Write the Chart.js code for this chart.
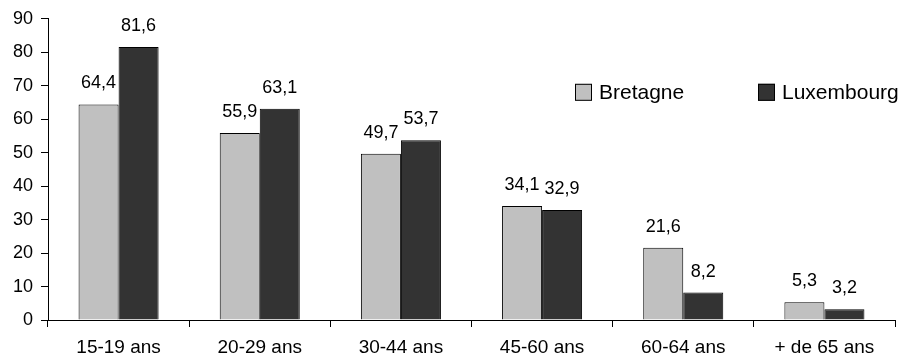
<!DOCTYPE html>
<html><head><meta charset="utf-8">
<script src="https://cdn.jsdelivr.net/npm/chart.js@4"></script>
<style>html,body{margin:0;padding:0;background:#fff}#w{width:911px;height:362px}</style>
</head><body><div id="w"><canvas id="c"></canvas></div>
<script>
const categories = ["15-19 ans","20-29 ans","30-44 ans","45-60 ans","60-64 ans","+ de 65 ans"];
const bretagne = [64.4,55.9,49.7,34.1,21.6,5.3];
const luxembourg = [81.6,63.1,53.7,32.9,8.2,3.2];
const seriesNames = ["Bretagne","Luxembourg"];
const yTicks = [0,10,20,30,40,50,60,70,80,90];
const FONT = "'Liberation Sans', Arial, sans-serif";

const labelPlugin = {
  id:'labels',
  afterDatasetsDraw(chart){
    const ctx = chart.ctx;
    ctx.save();
    ctx.font = "18px " + FONT;
    ctx.fillStyle = "#000";
    ctx.textAlign = "center";
    ctx.textBaseline = "alphabetic";
    chart.data.datasets.forEach((ds,i)=>{
      chart.getDatasetMeta(i).data.forEach((bar,j)=>{
        const t = ds.data[j].toFixed(1).replace('.',',');
        ctx.fillText(t, bar.x, bar.y - 16);
      });
    });
    ctx.restore();
  }
};
const legendPlugin = {
  id:'customLegend',
  afterDraw(chart){
    const ctx = chart.ctx, a = chart.chartArea;
    ctx.save();
    ctx.font = "21px " + FONT;
    ctx.textBaseline = "middle";
    ctx.textAlign = "left";
    const cy = a.top + 73;
    const xs = [a.left + 527, a.left + 710];
    chart.data.datasets.forEach((ds,i)=>{
      const x = xs[i];
      ctx.fillStyle = ds.backgroundColor;
      ctx.fillRect(x, cy-8, 17, 17);
      ctx.strokeStyle = "#000"; ctx.lineWidth = 1;
      ctx.strokeRect(x+0.5, cy-7.5, 16, 16);
      ctx.fillStyle = "#000";
      ctx.fillText(ds.label, x+24, cy+1);
    });
    ctx.restore();
  }
};

new Chart(document.getElementById('c'), {
  type:'bar',
  data:{
    labels: categories,
    datasets:[
      {label:seriesNames[0], data:bretagne, backgroundColor:"#c0c0c0", borderColor:"#000", borderWidth:1},
      {label:seriesNames[1], data:luxembourg, backgroundColor:"#333333", borderColor:"#000", borderWidth:1}
    ]
  },
  options:{
    responsive:true, maintainAspectRatio:false, animation:false,
    layout:{padding:{top:18,right:16,left:0,bottom:0}},
    plugins:{legend:{display:false}, tooltip:{enabled:false}},
    datasets:{bar:{categoryPercentage:0.567, barPercentage:1}},
    scales:{
      x:{
        grid:{display:true, drawOnChartArea:false, offset:true, color:"#000", tickLength:7, lineWidth:1},
        border:{display:true,color:"#000"},
        ticks:{color:"#000", font:{family:FONT,size:19}, padding:9, maxRotation:0, autoSkip:false},
        afterFit(s){ s.height = 42; }
      },
      y:{
        min:0, max:90,
        afterBuildTicks(s){ s.ticks = yTicks.map(v=>({value:v})); },
        grid:{display:true, drawOnChartArea:false, color:"#000", tickLength:7},
        border:{display:true,color:"#000"},
        ticks:{color:"#000", font:{family:FONT,size:18}, padding:8},
        afterFit(s){ s.width = 48; }
      }
    }
  },
  plugins:[labelPlugin, legendPlugin]
});
</script></body></html>
